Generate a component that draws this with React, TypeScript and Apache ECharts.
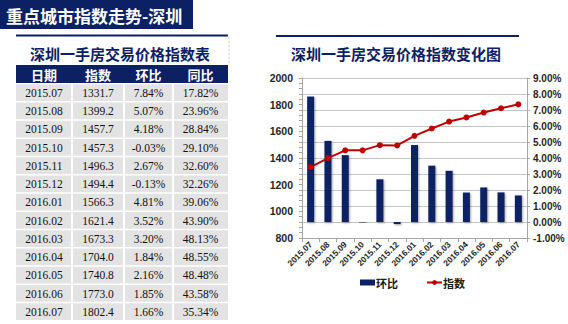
import React, { useEffect, useRef } from "react";
import * as echarts from "echarts";

const dates = ["2015.07", "2015.08", "2015.09", "2015.10", "2015.11", "2015.12", "2016.01", "2016.02", "2016.03", "2016.04", "2016.05", "2016.06", "2016.07"];
const indexValues = [1331.7, 1399.2, 1457.7, 1457.3, 1496.3, 1494.4, 1566.3, 1621.4, 1673.3, 1704.0, 1740.8, 1773.0, 1802.4];
const momValues = [7.84, 5.07, 4.18, -0.03, 2.67, -0.13, 4.81, 3.52, 3.2, 1.84, 2.16, 1.85, 1.66];
const yoyValues = [17.82, 23.96, 28.84, 29.1, 32.6, 32.26, 39.06, 43.9, 48.13, 48.55, 48.48, 43.58, 35.34];
const tableHeaders = ["日期", "指数", "环比", "同比"];
const pageTitle = "重点城市指数走势-深圳";
const tableTitle = "深圳一手房交易价格指数表";
const chartTitle = "深圳一手房交易价格指数变化图";
const leftAxisRange = { min: 800, max: 2000, interval: 200 };
const rightAxisRange = { min: -1, max: 9, interval: 1 };

const NAVY = "#0c2164";
const RED = "#c00000";
const CJK = "'Noto Sans CJK SC', 'Noto Sans', sans-serif";
const SANS = "'Liberation Sans', 'Noto Sans CJK SC', sans-serif";
const SERIF = "'Liberation Serif', 'DejaVu Serif', serif";

function txt(text: string, x: number, y: number, font: string, fill: string, align = "center") {
  return {
    type: "text",
    silent: true,
    style: {
      text,
      x,
      y,
      font,
      fill,
      align,
      verticalAlign: "middle",
      textAlign: align,
      textVerticalAlign: "middle",
    },
  };
}

function buildGraphics() {
  const g: any[] = [];
  g.push({ type: "rect", silent: true, shape: { x: 0, y: 0, width: 193, height: 29 }, style: { fill: NAVY } });
  g.push(txt(pageTitle, 6, 15, `bold 17px ${CJK}`, "#ffffff", "left"));
  g.push({ type: "rect", silent: true, shape: { x: 16, y: 34.5, width: 212, height: 2 }, style: { fill: NAVY } });
  g.push({ type: "rect", silent: true, shape: { x: 276, y: 35, width: 243, height: 2 }, style: { fill: NAVY } });
  g.push({
    type: "line",
    silent: true,
    shape: { x1: 229, y1: 37, x2: 229, y2: 65 },
    style: { stroke: "#c8c8c8", lineWidth: 1, lineDash: [2, 2] },
  });
  g.push(txt(tableTitle, 120, 53, `bold 15px ${CJK}`, NAVY));
  g.push(txt(chartTitle, 396, 53, `bold 15px ${CJK}`, NAVY));

  const cols = [16, 72, 124, 173, 228];
  const headTop = 65;
  const headH = 18;
  const rowH = 18.25;
  g.push({ type: "rect", silent: true, shape: { x: cols[0], y: headTop, width: cols[4] - cols[0], height: headH }, style: { fill: NAVY } });
  tableHeaders.forEach((h, j) => {
    g.push(txt(h, (cols[j] + cols[j + 1]) / 2, headTop + headH / 2, `bold 13px ${CJK}`, "#ffffff"));
  });
  dates.forEach((d, i) => {
    const y0 = headTop + headH + i * rowH;
    const cells = [d, indexValues[i].toFixed(1), momValues[i].toFixed(2) + "%", yoyValues[i].toFixed(2) + "%"];
    cells.forEach((c, j) => {
      const x0 = cols[j] + (j > 0 ? 1 : 0);
      const x1 = cols[j + 1] - (j < 3 ? 1 : 0);
      g.push({
        type: "rect",
        silent: true,
        shape: { x: x0, y: y0 + 1.25, width: x1 - x0, height: rowH - 1.5 },
        style: { fill: "#e3e3e3" },
      });
      g.push(txt(c, (cols[j] + cols[j + 1]) / 2, y0 + rowH / 2 + 0.8, `11.5px ${SERIF}`, "#111111"));
    });
  });
  return g;
}

export default function App() {
  const ref = useRef<HTMLDivElement>(null);
  useEffect(() => {
    if (!ref.current) return;
    const chart = echarts.init(ref.current, undefined, { renderer: "svg" });
    const option: any = {
      animation: false,
      backgroundColor: "#ffffff",
      graphic: { elements: buildGraphics() },
      grid: { left: 302, top: 78, width: 225, height: 160, containLabel: false },
      legend: {
        left: 355,
        top: 272,
        itemGap: 28,
        itemWidth: 15,
        itemHeight: 6,
        textStyle: { fontFamily: CJK, fontSize: 11, fontWeight: "bold", color: "#1a1a1a", padding: [0, 0, 0, -4] },
        data: [
          { name: "环比", icon: "rect" },
          { name: "指数" },
        ],
      },
      xAxis: {
        type: "category",
        data: dates,
        boundaryGap: true,
        axisLine: { onZero: false, lineStyle: { color: "#a6a6a6", width: 1 } },
        axisTick: { show: true, interval: 0, length: 4, lineStyle: { color: "#a6a6a6" } },
        axisLabel: {
          interval: 0,
          hideOverlap: false,
          rotate: 45,
          margin: 5,
          fontFamily: SANS,
          fontSize: 8.5,
          fontWeight: "bold",
          color: "#262626",
        },
        splitLine: { show: false },
      },
      yAxis: [
        {
          type: "value",
          position: "left",
          min: leftAxisRange.min,
          max: leftAxisRange.max,
          interval: leftAxisRange.interval,
          axisLine: { show: true, lineStyle: { color: "#a6a6a6" } },
          axisTick: { show: true, length: 3, lineStyle: { color: "#a6a6a6" } },
          minorTick: { show: true, splitNumber: 5, length: 3, lineStyle: { color: "#a6a6a6" } },
          splitLine: { show: false },
          axisLabel: {
            margin: 9,
            fontFamily: SANS,
            fontSize: 10.5,
            fontWeight: "bold",
            color: "#262626",
            formatter: (v: number) => String(v),
          },
        },
        {
          type: "value",
          position: "right",
          min: rightAxisRange.min,
          max: rightAxisRange.max,
          interval: rightAxisRange.interval,
          axisLine: { show: true, lineStyle: { color: "#a6a6a6" } },
          axisTick: { show: true, length: 3, lineStyle: { color: "#a6a6a6" } },
          splitLine: { show: true, lineStyle: { color: "#c4c4c4", width: 1 } },
          axisLabel: {
            margin: 6,
            fontFamily: SANS,
            fontSize: 10,
            fontWeight: "bold",
            color: "#262626",
            formatter: (v: number) => v.toFixed(2) + "%",
          },
        },
      ],
      series: [
        {
          name: "环比",
          type: "bar",
          yAxisIndex: 1,
          data: momValues,
          barWidth: 7,
          itemStyle: {
            color: NAVY,
            shadowColor: "rgba(0,0,0,0.35)",
            shadowBlur: 2,
            shadowOffsetX: 1,
            shadowOffsetY: 1,
          },
        },
        {
          name: "指数",
          type: "line",
          yAxisIndex: 0,
          data: indexValues,
          symbol: "circle",
          symbolSize: 6,
          lineStyle: { color: RED, width: 2 },
          itemStyle: { color: RED },
          z: 5,
        },
      ],
    };
    chart.setOption(option);
    return () => chart.dispose();
  }, []);
  return (
    <div
      ref={ref}
      style={{ position: "fixed", left: 0, top: 0, width: 568, height: 324, background: "#fff" }}
    />
  );
}
